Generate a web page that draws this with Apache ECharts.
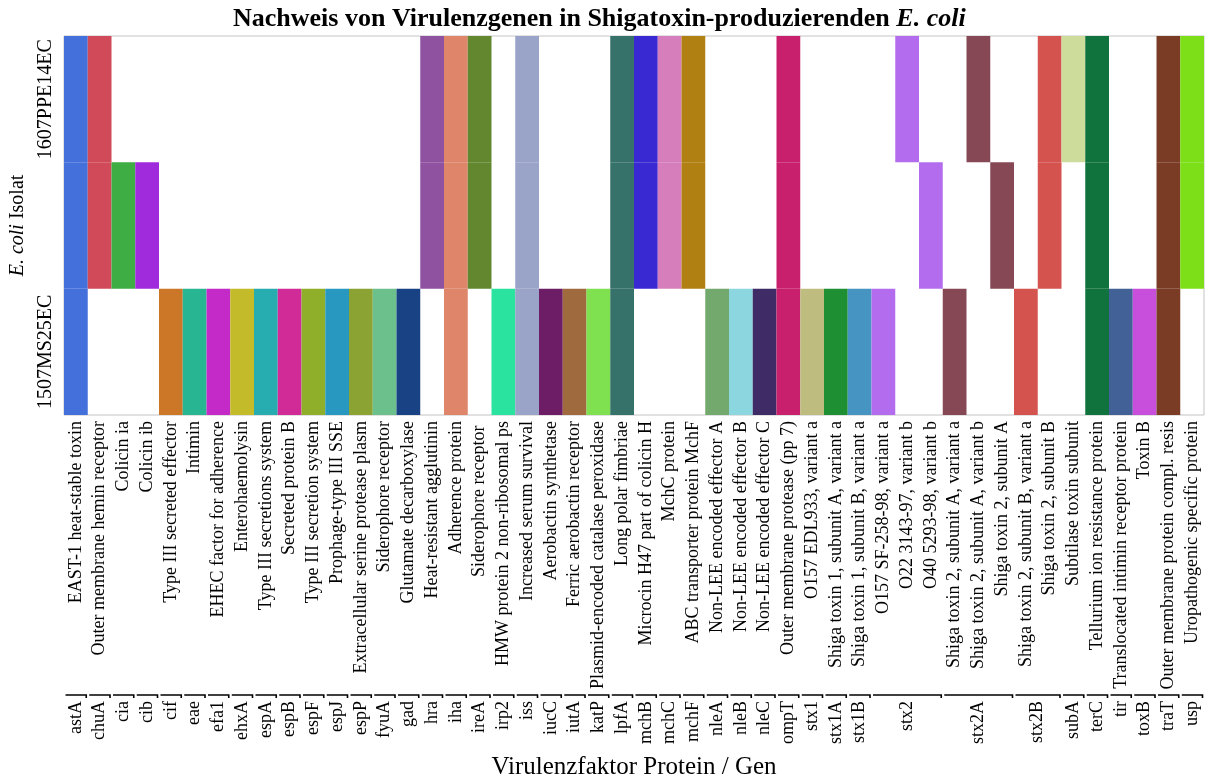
<!DOCTYPE html>
<html>
<head>
<meta charset="utf-8">
<script src="https://cdn.jsdelivr.net/npm/echarts@6/dist/echarts.min.js"></script>
<style>
  html, body { margin: 0; padding: 0; background: #fff; }
  #chart { width: 1207px; height: 781px; }
</style>
</head>
<body>
<div id="chart"></div>
<script>
// Isolate (von unten nach oben)
const isolates = ['1507MS25EC', '1606M07EC', '1607PPE14EC']

// Protein-Beschreibungen (eine Spalte je Eintrag)
const proteins = [
  'EAST-1 heat-stable toxin', 'Outer membrane hemin receptor', 'Colicin ia', 'Colicin ib',
  'Type III secreted effector', 'Intimin', 'EHEC factor for adherence', 'Enterohaemolysin',
  'Type III secretions system', 'Secreted protein B', 'Type III secretion system',
  'Prophage-type III SSE', 'Extracellular serine protease plasm', 'Siderophore receptor',
  'Glutamate decarboxylase', 'Heat-resistant agglutinin', 'Adherence protein',
  'Siderophore receptor ', 'HMW protein 2 non-ribosomal ps', 'Increased serum survival',
  'Aerobactin synthetase', 'Ferric aerobactin receptor', 'Plasmid-encoded catalase peroxidase',
  'Long polar fimbriae', 'Microcin H47 part of colicin H', 'MchC protein',
  'ABC transporter protein MchF', 'Non-LEE encoded effector A', 'Non-LEE encoded effector B',
  'Non-LEE encoded effector C', 'Outer membrane protease (pp 7)', 'O157 EDL933, variant a',
  'Shiga toxin 1, subunit A, variant a', 'Shiga toxin 1, subunit B, variant a',
  'O157 SF-258-98, variant a', 'O22 3143-97, variant b', 'O40 5293-98, variant b',
  'Shiga toxin 2, subunit A, variant a', 'Shiga toxin 2, subunit A, variant b',
  'Shiga toxin 2, subunit A', 'Shiga toxin 2, subunit B, variant a', 'Shiga toxin 2, subunit B',
  'Subtilase toxin subunit', 'Tellurium ion resistance protein',
  'Translocated intimin receptor protein', 'Toxin B', 'Outer membrane protein compl. resis',
  'Uropathogenic specific protein'
]

// Gene (zweite Ebene) und Anzahl Spalten je Gen
const genes = [
  'astA', 'chuA', 'cia', 'cib', 'cif', 'eae', 'efa1', 'ehxA', 'espA', 'espB', 'espF', 'espJ',
  'espP', 'fyuA', 'gad', 'hra', 'iha', 'ireA', 'irp2', 'iss', 'iucC', 'iutA', 'katP', 'lpfA',
  'mchB', 'mchC', 'mchF', 'nleA', 'nleB', 'nleC', 'ompT', 'stx1', 'stx1A', 'stx1B', 'stx2',
  'stx2A', 'stx2B', 'subA', 'terC', 'tir', 'toxB', 'traT', 'usp'
]
const geneSpans = [
  1, 1, 1, 1, 1, 1, 1, 1, 1, 1, 1, 1,
  1, 1, 1, 1, 1, 1, 1, 1, 1, 1, 1, 1,
  1, 1, 1, 1, 1, 1, 1, 1, 1, 1, 3,
  3, 2, 1, 1, 1, 1, 1, 1
]

// Farbe je Gen
const geneColors = [
  '#4470dc', '#d14a59', '#3dad44', '#a02bdc', '#cc7728', '#28b591', '#c42ac8', '#c4bb2a',
  '#27adb0', '#d02b96', '#8fae29', '#2898c0', '#8aa333', '#6bc08c', '#184283', '#8f52a0',
  '#de856a', '#62872f', '#29e39e', '#9aa3c8', '#6d1c66', '#9e6a3e', '#7fe14f', '#36716a',
  '#3829d3', '#d57ebb', '#b08013', '#73a96d', '#8cd6df', '#3f2b66', '#c8206d', '#bfbc80',
  '#1f8f34', '#4594c1', '#b36ced', '#874856', '#d4534f', '#cddb9b', '#10733d', '#426196',
  '#c84fdc', '#7a3c25', '#7ddf17'
]

// Nachweis (1 = vorhanden) je Isolat, eine Zahl pro Spalte
const ms25 = [1, 0, 0, 0, 1, 1, 1, 1, 1, 1, 1, 1, 1, 1, 1, 0, 1, 0, 1, 1, 1, 1, 1, 1,
  0, 0, 0, 1, 1, 1, 1, 1, 1, 1, 1, 0, 0, 1, 0, 0, 1, 0, 0, 1, 1, 1, 1, 0]
const m07 = [1, 1, 1, 1, 0, 0, 0, 0, 0, 0, 0, 0, 0, 0, 0, 1, 1, 1, 0, 1, 0, 0, 0, 1,
  1, 1, 1, 0, 0, 0, 1, 0, 0, 0, 0, 0, 1, 0, 0, 1, 0, 1, 0, 1, 0, 0, 1, 1]
const ppe14 = [1, 1, 0, 0, 0, 0, 0, 0, 0, 0, 0, 0, 0, 0, 0, 1, 1, 1, 0, 1, 0, 0, 0, 1,
  1, 1, 1, 0, 0, 0, 1, 0, 0, 0, 0, 1, 0, 0, 1, 0, 0, 1, 1, 1, 0, 0, 1, 1]

const FONT = 'Liberation Serif'

// Spalte -> Gen-Index
const colGene = []
genes.forEach((g, i) => {
  for (let k = 0; k < geneSpans[i]; k++) colGene.push(i)
})

// Zellen
const cells = []
;[ms25, m07, ppe14].forEach((row, r) => {
  row.forEach((v, c) => {
    v && cells.push([c, r])
  })
})

// Gen-Gruppen [erste Spalte, letzte Spalte, 0]
const groups = []
let start = 0
geneSpans.forEach(n => {
  groups.push([start, start + n - 1, 0])
  start += n
})

const myChart = echarts.init(document.getElementById('chart'))

const option = {
  backgroundColor: '#fff',
  animation: false,

  title: {
    text: 'Nachweis von Virulenzgenen in Shigatoxin-produzierenden {i|E. coli}',
    left: 228,
    top: 1,
    textStyle: {
      fontFamily: FONT,
      fontWeight: 'bold',
      fontSize: 26,
      color: '#000',
      rich: {
        i: { fontFamily: FONT, fontWeight: 'bold', fontStyle: 'italic', fontSize: 26, color: '#000' }
      }
    }
  },

  grid: {
    left: 64,
    right: 3,
    top: 36,
    bottom: 365,
    show: true,
    borderColor: '#c4c4c4',
    borderWidth: 1
  },

  xAxis: {
    type: 'category',
    data: proteins,
    axisLine: { show: false },
    axisTick: { show: false },
    splitLine: { show: false },
    axisLabel: {
      interval: 0,
      rotate: 90,
      margin: 6,
      fontFamily: FONT,
      fontSize: 18,
      color: '#000'
    },
    name: 'Virulenzfaktor Protein / Gen',
    nameLocation: 'middle',
    nameGap: 340,
    nameTextStyle: { fontFamily: FONT, fontSize: 25, color: '#000' }
  },

  yAxis: {
    type: 'category',
    data: isolates,
    axisLine: { show: false },
    axisTick: { show: false },
    splitLine: { show: false },
    axisLabel: {
      rotate: 90,
      margin: 8,
      fontFamily: FONT,
      fontSize: 20,
      color: '#000'
    },
    name: '{i|E. coli} Isolat',
    nameLocation: 'middle',
    nameRotate: 90,
    nameGap: 36,
    nameTextStyle: {
      fontFamily: FONT,
      fontSize: 20,
      color: '#000',
      rich: {
        i: { fontFamily: FONT, fontStyle: 'italic', fontSize: 20, color: '#000' }
      }
    }
  },

  series: [
    {
      // Nachweis-Zellen
      type: 'custom',
      data: cells,
      encode: { x: 0, y: 1 },
      renderItem: (params, api) => {
        const c = api.value(0)
        const p = api.coord([c, api.value(1)])
        const s = api.size([1, 1])
        return {
          type: 'rect',
          shape: { x: p[0] - s[0] / 2, y: p[1] - s[1] / 2, width: s[0], height: s[1] },
          style: { fill: geneColors[colGene[c]] }
        }
      }
    },
    {
      // Gen-Beschriftung mit Klammer
      type: 'custom',
      data: groups,
      encode: { x: [0, 1], y: 2 },
      clip: false,
      silent: true,
      renderItem: (params, api) => {
        const bw = api.size([1, 0])[0]
        const x0 = api.coord([api.value(0), 0])[0] - bw / 2 + 1.5
        const x1 = api.coord([api.value(1), 0])[0] + bw / 2 - 1.5
        const y = params.coordSys.y + params.coordSys.height + 280
        return {
          type: 'group',
          children: [
            {
              type: 'polyline',
              shape: { points: [[x0, y], [x1, y], [x1, y + 3]] },
              style: { stroke: '#000', lineWidth: 1.6, fill: null }
            },
            {
              type: 'text',
              x: (x0 + x1) / 2,
              y: y + 6,
              rotation: Math.PI / 2,
              style: {
                text: genes[params.dataIndex],
                fontFamily: FONT,
                fontSize: 18,
                fill: '#000',
                align: 'right',
                verticalAlign: 'middle'
              }
            }
          ]
        }
      }
    }
  ]
}

myChart.setOption(option)
</script>
</body>
</html>
